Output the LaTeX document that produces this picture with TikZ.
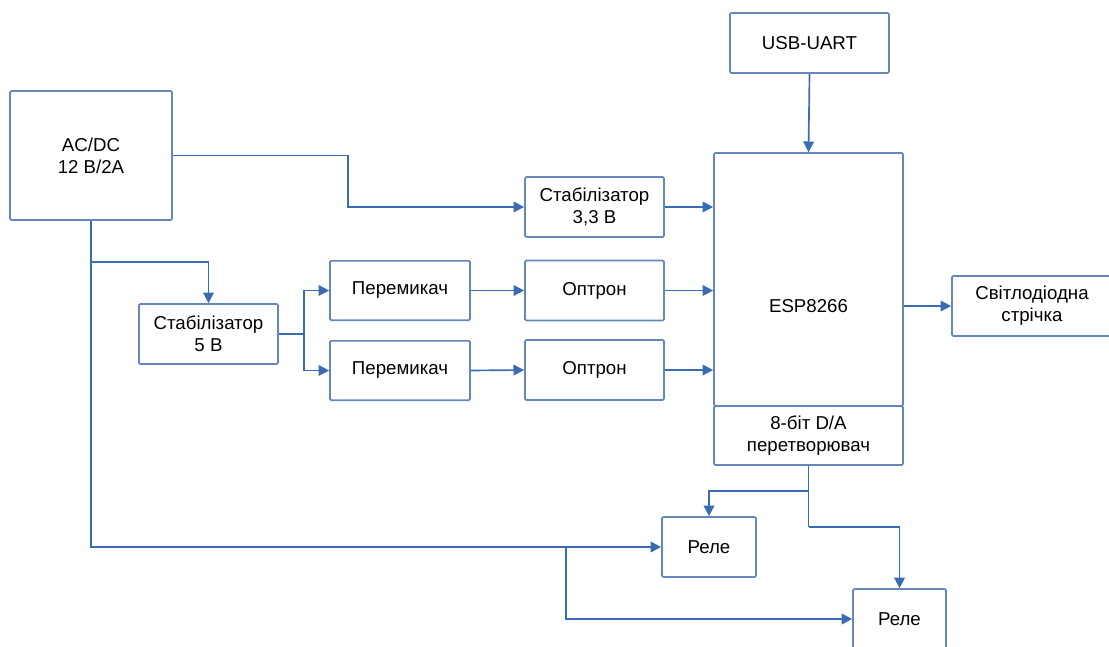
\documentclass[tikz,border=0pt]{standalone}
\usepackage{fontspec}
\setmainfont{Liberation Sans}
\usetikzlibrary{arrows.meta}
\definecolor{linec}{RGB}{58,108,180}
\definecolor{boxc}{RGB}{100,135,188}
\tikzset{
  blk/.style={draw=boxc, line width=1.25pt, rounded corners=1pt, inner sep=0pt, align=center,
    font=\fontsize{14}{16.5}\selectfont, text=black},
  wire/.style={draw=linec, line width=1.25pt},
  arr/.style={wire, -{Triangle[length=8pt,width=8pt]}},
}
\begin{document}
\begin{tikzpicture}[x=0.75pt,y=-0.75pt]
\useasboundingbox (0,0) rectangle (1109,646);
\clip (0,0) rectangle (1109,646);
% boxes
\node[blk, minimum width=121.5pt, minimum height=96.75pt] (acdc) at (91,155.5) {AC/DC\\12 В/2А};
\node[blk, minimum width=119.25pt, minimum height=45pt] (usb) at (809.5,43) {USB-UART};
\node[blk, minimum width=104.25pt, minimum height=45pt] (st33) at (594.5,207) {Стабілізатор\\3,3 В};
\node[blk, minimum width=104.25pt, minimum height=45pt] (opt1) at (594.5,290.5) {Оптрон};
\node[blk, minimum width=104.25pt, minimum height=45pt] (opt2) at (594.5,370) {Оптрон};
\node[blk, minimum width=105pt, minimum height=44.5pt] (per1) at (400,290.5) {Перемикач};
\node[blk, minimum width=105pt, minimum height=44.5pt] (per2) at (400,370.5) {Перемикач};
\node[blk, minimum width=104.25pt, minimum height=45pt] (st5) at (208.5,334) {Стабілізатор\\5 В};
\node[blk, minimum width=141.75pt, minimum height=189.75pt] (esp) at (808.5,279.5) {};
\node[font=\fontsize{14}{16.5}\selectfont, inner sep=0pt] (esptext) at (808.5,306) {ESP8266};
\node[blk, minimum width=141.75pt, minimum height=44.25pt] (dac) at (808.5,435.5) {8-біт D/A\\перетворювач};
\node[blk, minimum width=120pt, minimum height=45pt] (led) at (1032,306) {Світлодіодна\\стрічка};
\node[blk, minimum width=70.5pt, minimum height=45pt] (rele1) at (709,547) {Реле};
\node[blk, minimum width=69.75pt, minimum height=45pt] (rele2) at (899.5,619) {Реле};
% junctions
\coordinate (j1) at (348,155.5);
\coordinate (j2) at (91,262);
\coordinate (j3) at (566,547);
\coordinate (j4) at (304,334);
\coordinate (j5) at (808.5,491);
\coordinate (j6) at (808.5,527);
% connectors
\draw[arr] (acdc.east) -- (j1) |- (st33.west);
\draw[arr] (st33.east) -- (st33.east -| esp.west);
\draw[arr] (usb.south) -- (esp.north);
\draw[arr] (per1.east) -- (opt1.west);
\draw[arr] (per2.east) -- (opt2.west);
\draw[arr] (opt1.east) -- (opt1.east -| esp.west);
\draw[arr] (opt2.east) -- (opt2.east -| esp.west);
\draw[arr] (led.west -| esp.east) -- (led.west);
\draw[arr] (acdc.south) |- (rele1.west);
\draw[arr] (j2) -| (st5.north);
\draw[arr] (j3) |- (rele2.west);
\draw[wire] (st5.east) -- (j4);
\draw[arr] (j4) |- (per1.west);
\draw[arr] (j4) |- (per2.west);
\draw[wire] (dac.south) -- (j6);
\draw[arr] (j5) -| (rele1.north);
\draw[arr] (j6) -| (rele2.north);
\end{tikzpicture}
\end{document}
